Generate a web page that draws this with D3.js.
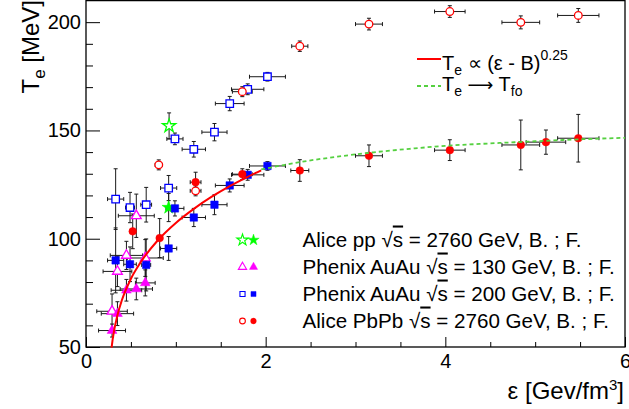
<!DOCTYPE html>
<html>
<head>
<meta charset="utf-8">
<script src="https://cdn.jsdelivr.net/npm/d3@7"></script>
<style>
  body { margin: 0; background: #fff; }
  text { font-family: "Liberation Sans", Arial, Helvetica, sans-serif; }
</style>
</head>
<body>
<div id="chart"></div>
<script>
// points are [energy density, T_e, x error, y error]
var ppB = [[0.925, 152.1, 0, 6]];
var ppF = [[0.92, 114.4, 0, 6.5]];
var au130B = [[0.29, 66.5, 0.17, 8], [0.35, 84.9, 0.16, 7], [0.45, 92.3, 0.18, 6.5], [0.56, 110.6, 0.2, 10], [0.66, 91.1, 0.2, 8.5]];
var au130F = [[0.29, 57.6, 0.15, 3], [0.35, 65.4, 0.18, 5.5], [0.45, 76.2, 0.17, 5], [0.56, 76.8, 0.18, 5], [0.66, 79.6, 0.11, 6]];
var au200B = [[0.33, 118.3, 0.09, 14], [0.49, 114.4, 0.05, 7], [0.67, 115.7, 0.06, 8], [0.92, 123.4, 0.09, 5.8], [0.99, 146.1, 0.09, 2.7],
              [1.20, 141.3, 0.13, 3.6], [1.43, 149.2, 0.14, 4], [1.60, 162.4, 0.16, 3.3], [1.80, 169.0, 0.18, 2.5], [2.02, 174.8, 0.2, 2]];
var au200F = [[0.33, 90.0, 0.09, 15], [0.49, 88.2, 0.07, 8], [0.67, 87.9, 0.05, 12], [0.92, 95.5, 0.09, 5.5], [0.99, 114.0, 0.1, 3.5],
              [1.20, 109.8, 0.13, 4.2], [1.43, 115.7, 0.14, 4.6], [1.60, 124.6, 0.16, 3], [1.80, 129.5, 0.18, 2.5], [2.02, 133.6, 0.2, 2]];
var pbB = [[0.81, 134.1, 0.04, 2.3], [1.22, 122.1, 0.06, 2.3], [1.74, 167.9, 0.11, 2.3], [2.38, 188.9, 0.09, 2.4],
           [3.15, 199.1, 0.15, 2.7], [4.05, 204.9, 0.17, 2.7], [4.84, 199.9, 0.21, 3], [5.48, 203.1, 0.23, 3.2]];
var pbF = [[0.52, 103.4, 0.03, 8], [0.82, 100.3, 0.03, 9], [1.22, 126.1, 0.06, 4.6], [1.74, 129.8, 0.11, 2.5], [2.38, 131.5, 0.1, 5],
           [3.15, 138.3, 0.15, 5], [4.05, 140.9, 0.17, 4.8], [4.84, 143.3, 0.21, 11.5], [5.12, 144.6, 0.22, 5.6], [5.48, 146.4, 0.23, 11]];

// curves
var fitCurve = [[0.285, 49.7], [0.30, 54.4], [0.35, 64.7], [0.40, 71.7], [0.5, 81.5], [0.6, 88.6], [0.8, 99.3],
                [1.0, 107.3], [1.2, 113.8], [1.4, 119.4], [1.6, 124.3], [1.8, 128.6], [1.95, 131.6]];
var foCurve = [[1.95, 132.0], [2.2, 134.0], [2.4, 135.5], [2.8, 137.9], [3.2, 139.9], [3.6, 141.5], [4.0, 142.9],
               [4.5, 144.0], [5.0, 145.0], [5.5, 145.9], [6.0, 146.6]];

var xMajor = [0, 2, 4, 6];
var xMinor = [0.5, 1, 1.5, 2.5, 3, 3.5, 4.5, 5, 5.5];
var yMajor = [50, 100, 150, 200];
var yMinor = [60, 70, 80, 90, 110, 120, 130, 140, 160, 170, 180, 190];

var legendLabels = ["Alice pp", "Phenix AuAu", "Phenix AuAu", "Alice PbPb"];
var legendEnergy = ["2760", "130", "200", "2760"];

var width = 629, height = 409;

var svg = d3.select("#chart")
    .append("svg")
    .attr("width", width)
    .attr("height", height);

svg.append("rect").attr("width", width).attr("height", height).attr("fill", "#fff");

var x = d3.scaleLinear().domain([0, 6]).range([86, 625]);
var y = d3.scaleLinear().domain([50, 210]).range([347, 0.5]);

// minor ticks first
svg.append("g")
    .attr("transform", "translate(0,347)")
    .call(d3.axisBottom(x).tickValues(xMinor).tickSize(-5).tickFormat(""))
    .call(g => g.select(".domain").remove());
svg.append("g")
    .attr("transform", "translate(86,0)")
    .call(d3.axisLeft(y).tickValues(yMinor).tickSize(-7).tickFormat(""))
    .call(g => g.select(".domain").remove());

var xAxis = svg.append("g")
    .attr("transform", "translate(0,347)")
    .call(d3.axisBottom(x).tickValues(xMajor).tickSize(-10).tickPadding(7).tickFormat(d3.format("d")));
xAxis.select(".domain").remove();

var yAxis = svg.append("g")
    .attr("transform", "translate(86,0)")
    .call(d3.axisLeft(y).tickValues(yMajor).tickSize(-14).tickPadding(5).tickFormat(d3.format("d")));
yAxis.select(".domain").remove();

svg.selectAll(".tick line").attr("stroke", "#000").attr("stroke-width", 1);
svg.selectAll(".tick text")
    .attr("fill", "#000")
    .attr("font-size", 20)
    .attr("font-family", "Liberation Sans, Arial, sans-serif");

// frame
svg.append("rect")
    .attr("x", 86).attr("y", 0.6)
    .attr("width", 539).attr("height", 346.4)
    .attr("fill", "none")
    .attr("stroke", "#000")
    .attr("stroke-width", 1.3);

var series = [
    { data: ppB, shape: d3.symbolStar, color: "#00ff00", open: true, size: 55 },
    { data: ppF, shape: d3.symbolStar, color: "#00ff00", open: false, size: 55 },
    { data: au130B, shape: d3.symbolTriangle, color: "#ff00ff", open: true, size: 42 },
    { data: au130F, shape: d3.symbolTriangle, color: "#ff00ff", open: false, size: 42 },
    { data: au200B, shape: d3.symbolSquare, color: "#0000ff", open: true, size: 56 },
    { data: au200F, shape: d3.symbolSquare, color: "#0000ff", open: false, size: 56 },
    { data: pbB, shape: d3.symbolCircle, color: "#ff0000", open: true, size: 46 },
    { data: pbF, shape: d3.symbolCircle, color: "#ff0000", open: false, size: 46 }
];

// error bars
var errG = svg.append("g").attr("stroke", "#1a1a1a").attr("stroke-width", 1);
series.forEach(function (s) {
    s.data.forEach(function (d) {
        var cx = x(d[0]), cy = y(d[1]);
        if (d[2] > 0) {
            var x0 = x(d[0] - d[2]), x1 = x(d[0] + d[2]);
            errG.append("line").attr("x1", x0).attr("x2", x1).attr("y1", cy).attr("y2", cy);
            errG.append("line").attr("x1", x0).attr("x2", x0).attr("y1", cy - 2).attr("y2", cy + 2);
            errG.append("line").attr("x1", x1).attr("x2", x1).attr("y1", cy - 2).attr("y2", cy + 2);
        }
        if (d[3] > 0) {
            var y0 = y(d[1] - d[3]), y1 = y(d[1] + d[3]);
            errG.append("line").attr("x1", cx).attr("x2", cx).attr("y1", y0).attr("y2", y1);
            errG.append("line").attr("x1", cx - 2).attr("x2", cx + 2).attr("y1", y0).attr("y2", y0);
            errG.append("line").attr("x1", cx - 2).attr("x2", cx + 2).attr("y1", y1).attr("y2", y1);
        }
    });
});

// markers
series.forEach(function (s) {
    svg.append("g")
        .selectAll("path")
        .data(s.data)
        .enter()
        .append("path")
        .attr("transform", d => "translate(" + x(d[0]) + "," + y(d[1]) + ")")
        .attr("d", d3.symbol().type(s.shape).size(s.size))
        .attr("fill", s.open ? "#fff" : s.color)
        .attr("stroke", s.color)
        .attr("stroke-width", s.open ? 1.3 : 0.5);
});

// curves
var line = d3.line().x(d => x(d[0])).y(d => y(d[1])).curve(d3.curveMonotoneX);
svg.append("path")
    .datum(fitCurve)
    .attr("d", line)
    .attr("fill", "none")
    .attr("stroke", "#ff0000")
    .attr("stroke-width", 2);
svg.append("path")
    .datum(foCurve)
    .attr("d", line)
    .attr("fill", "none")
    .attr("stroke", "#55d040")
    .attr("stroke-width", 1.8)
    .attr("stroke-dasharray", "4,3");

// axis titles
var xt = svg.append("text")
    .attr("x", 624).attr("y", 399)
    .attr("text-anchor", "end")
    .attr("font-size", 24);
xt.append("tspan").text("ε [Gev/fm");
xt.append("tspan").attr("font-size", 15).attr("dy", -9).text("3");
xt.append("tspan").attr("dy", 9).text("]");

var yt = svg.append("text")
    .attr("transform", "translate(39,0) rotate(-90)")
    .attr("text-anchor", "end")
    .attr("font-size", 24);
yt.append("tspan").text("T");
yt.append("tspan").attr("font-size", 17).attr("dy", 6).text("e");
yt.append("tspan").attr("dy", -6).text(" [MeV]");

// curve legend
svg.append("line").attr("x1", 417).attr("x2", 441).attr("y1", 59).attr("y2", 59)
    .attr("stroke", "#ff0000").attr("stroke-width", 2);
svg.append("line").attr("x1", 417).attr("x2", 441).attr("y1", 86).attr("y2", 86)
    .attr("stroke", "#55d040").attr("stroke-width", 1.8).attr("stroke-dasharray", "4,3");

var l1 = svg.append("text").attr("x", 442).attr("y", 70).attr("font-size", 20);
l1.append("tspan").text("T");
l1.append("tspan").attr("font-size", 14).attr("dy", 5).text("e");
l1.append("tspan").attr("dy", -5).text(" ∝ (ε - B)");
l1.append("tspan").attr("font-size", 14).attr("dy", -10).text("0.25");

var l2 = svg.append("text").attr("x", 442).attr("y", 91).attr("font-size", 20);
l2.append("tspan").text("T");
l2.append("tspan").attr("font-size", 14).attr("dy", 5).text("e");
l2.append("tspan").attr("dy", -5).text(" ");
l2.append("tspan").attr("font-family", "DejaVu Sans").attr("font-size", 18).text("⟶");
l2.append("tspan").text(" T");
l2.append("tspan").attr("font-size", 14).attr("dy", 5).text("fo");

// marker legend
var legShapes = [d3.symbolStar, d3.symbolTriangle, d3.symbolSquare, d3.symbolCircle];
var legColors = ["#00ff00", "#ff00ff", "#0000ff", "#ff0000"];
var legSizes = [40, 30, 26, 26];
var legRows = [240, 267, 294, 321];

legendLabels.forEach(function (lab, i) {
    [0, 1].forEach(function (k) {
        svg.append("path")
            .attr("transform", "translate(" + (242.5 + k * 11) + "," + legRows[i] + ")")
            .attr("d", d3.symbol().type(legShapes[i]).size(legSizes[i]))
            .attr("fill", k === 0 ? "#fff" : legColors[i])
            .attr("stroke", legColors[i])
            .attr("stroke-width", k === 0 ? 1.1 : 0.4);
    });
    var t = svg.append("text")
        .attr("x", 302.5)
        .attr("y", legRows[i] + 6.5)
        .attr("font-size", 20.6);
    t.append("tspan").text(lab + " √");
    t.append("tspan").attr("text-decoration", "overline").text("s");
    t.append("tspan").text(" = " + legendEnergy[i] + " GeV, B. ; F.");
});
</script>
</body>
</html>
